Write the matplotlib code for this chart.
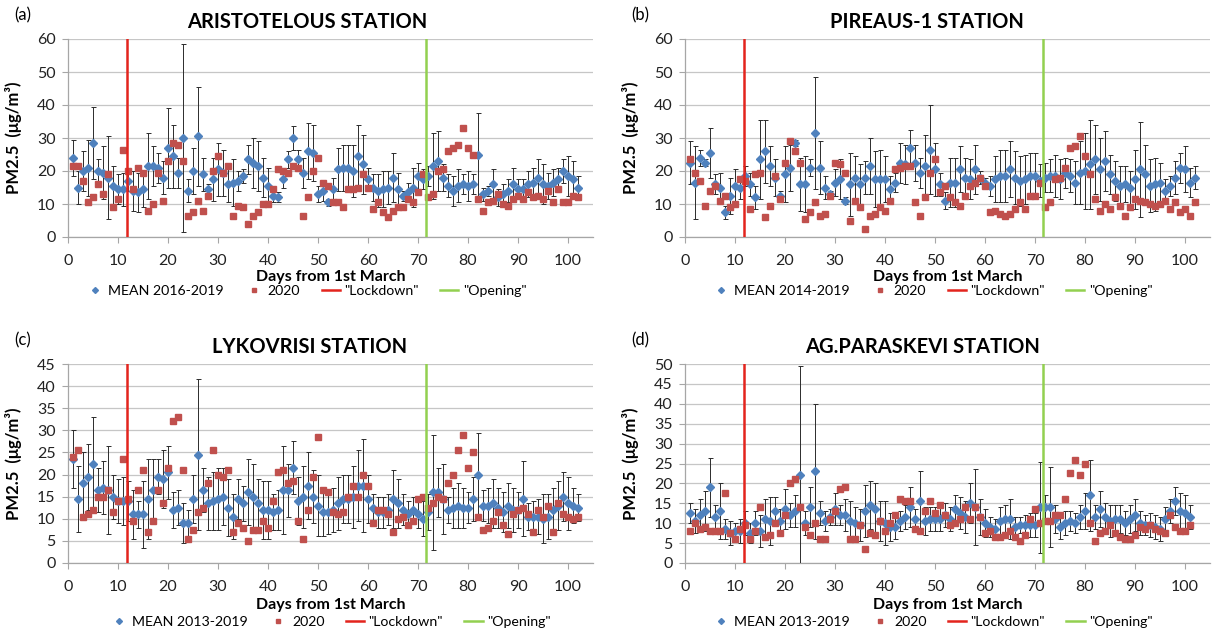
import matplotlib
matplotlib.use("Agg")
import matplotlib.pyplot as plt
from matplotlib.lines import Line2D
import numpy as np

plt.rcParams['font.family'] = ['Lato', 'DejaVu Sans']

# ---- data ----
lockdown_day = 11.7
opening_day = 71.6

# ARISTOTELOUS
mean_a = [24, 15, 20, 21, 28.5, 20, 19.5, 18, 15.5, 14.5, 14.5, 17, 14, 13.5, 14.5, 21.5, 21.5, 21, 18, 27,
          24.5, 19.5, 30, 14, 20, 30.5, 19, 14.5, 17.5, 20.5, 19.5, 16, 16.5, 17, 18.5, 23.5, 22.5, 21.5, 18, 15.5,
          12.5, 12, 17.5, 23.5, 30, 23.5, 19.5, 26, 25.5, 13, 14, 10.5, 14.5, 20.5, 21, 21, 20, 24.5, 22, 17.5,
          15, 14, 14.5, 15, 18, 14.5, 12.5, 13.5, 15, 18.5, 17.5, 18.5, 21.5, 23, 18, 15.5, 14, 15.5, 16, 15.5,
          16, 25, 13, 14, 16, 12, 13, 14, 16, 14.5, 14.5, 16, 16.5, 18, 16, 15.5, 16.5, 17.5, 20, 18.5,
          17.5, 15]
err_a = [5.5, 5, 6, 8.5, 11, 3.5, 8, 12.5, 6, 4.5, 5, 3, 6, 6, 5.5, 10, 6, 4.5, 5, 12,
         9.5, 4.5, 28.5, 3.5, 7, 15, 5, 1.5, 6.5, 8, 7, 5.5, 7, 3, 2, 4.5, 7.5, 7.5, 6, 5.5,
         2, 1.5, 2.5, 2.5, 3.5, 3, 4.5, 8.5, 8.5, 2.5, 3, 1, 3.5, 6.5, 7, 7, 8, 9.5, 9, 3.5,
         4, 5, 5.5, 5, 7.5, 5, 1.5, 3, 6, 4, 3, 3, 10, 9, 4, 3.5, 4.5, 5, 3, 4.5,
         3, 12.5, 2, 1.5, 4.5, 2.5, 3, 3.5, 5, 3, 3, 4, 4.5, 5.5, 6, 4, 4, 3.5, 3.5, 6,
         5.5, 3.5]
y2020_a = [21.5, 21.5, 17, 10.5, 12, 16, 13, 19, 9, 11.5, 26.5, 20, 14.5, 21, 19.5, 8, 10, 19.5, 11, 23,
           28.5, 28, 23, 6.5, 7.5, 11, 8, 12.5, 20, 24.5, 19.5, 21.5, 6.5, 9.5, 9, 4, 6.5, 7.5, 10, 10,
           14.5, 20.5, 20, 19.5, 21.5, 21, 6.5, 12, 20, 24, 16.5, 15.5, 10.5, 10.5, 9, 14.5, 14.5, 15, 19, 15,
           8.5, 10.5, 7.5, 6, 8, 9, 9, 11.5, 10.5, 13.5, 19, 12, 13, 20, 20.5, 26, 27, 28, 33, 27,
           25, 11.5, 8, 10.5, 11, 13, 10, 9.5, 11.5, 12.5, 11.5, 13.5, 12, 12.5, 11.5, 14, 10.5, 14.5, 10.5, 10.5,
           12.5, 12]

# PIREAUS-1
mean_b = [22.5, 16.5, 24, 22.5, 25.5, 16, 15, 7.5, 12.5, 15.5, 15, 18.5, 16, 12, 23.5, 26, 21.5, 18, 12.5, 19,
          21, 28.5, 16, 16, 21, 31.5, 21, 15, 13, 16.5, 17.5, 11, 16, 18, 16, 18, 21.5, 17.5, 17.5, 17.5,
          14.5, 16.5, 22.5, 22, 27, 22.5, 19.5, 21.5, 26.5, 20.5, 16, 11, 16.5, 16.5, 20.5, 18, 17.5, 20.5, 18, 16.5,
          15.5, 17.5, 18.5, 18.5, 20.5, 18, 17, 17.5, 18.5, 18.5, 17, 18, 18.5, 18.5, 17.5, 19.5, 18.5, 16.5, 19.5, 20,
          22, 23.5, 20.5, 23, 19, 17, 15.5, 16, 15, 17.5, 20.5, 19, 15.5, 16, 16.5, 14, 15.5, 18, 21, 20.5,
          16.5, 18]
err_b = [6.5, 11, 2.5, 1, 7.5, 3, 4.5, 2, 5.5, 5, 3.5, 3, 3.5, 3.5, 12, 9.5, 6, 5.5, 1.5, 8.5,
         7, 1, 8, 8.5, 2.5, 17, 8, 3.5, 1, 4, 6, 1, 9.5, 6.5, 6, 5, 8.5, 8.5, 9, 7,
         4, 3, 6, 6, 5.5, 5.5, 4.5, 9.5, 13.5, 8, 3.5, 2.5, 7.5, 7.5, 7, 6, 6, 7.5, 2, 1.5,
         3, 7, 8, 8, 8.5, 8, 7.5, 7.5, 7, 7, 5, 4.5, 5, 6.5, 6, 4.5, 5, 6.5, 9.5, 11.5,
         13.5, 10.5, 9.5, 9, 6, 6, 6, 5.5, 5, 9, 14.5, 9, 8, 8, 6, 3.5, 3, 5, 4.5, 7,
         4.5, 3.5]
y2020_b = [23.5, 19.5, 17, 9.5, 14, 15.5, 11, 12.5, 9, 10, 17.5, 17, 8.5, 19, 19.5, 6, 9.5, 18.5, 11.5, 22.5,
           29, 26, 22.5, 5.5, 7.5, 10.5, 6.5, 7, 12.5, 22.5, 22, 19.5, 5, 11, 9, 2.5, 6.5, 7, 9, 8,
           11, 20.5, 21, 21.5, 21.5, 10.5, 6.5, 12, 19.5, 23.5, 13.5, 15.5, 12, 10.5, 9.5, 12.5, 15.5, 16.5, 18, 15.5,
           7.5, 8, 7, 6.5, 7, 8.5, 10.5, 8.5, 12.5, 12.5, 16.5, 9, 10.5, 17.5, 18, 21, 27, 27.5, 30.5, 24.5,
           19, 11.5, 8, 10, 8.5, 12, 9.5, 6.5, 9, 11.5, 11, 10.5, 10, 9.5, 10, 11, 8.5, 10.5, 7.5, 8.5,
           6.5, 10.5]

# LYKOVRISI
mean_c = [23.5, 14.5, 18, 19.5, 22.5, 16.5, 17, 16.5, 15, 14, 14, 14, 11, 11, 11, 14.5, 16.5, 19.5, 19, 20.5,
          12, 12.5, 9, 9, 14.5, 24.5, 16.5, 13.5, 14, 14.5, 15, 12.5, 10.5, 14.5, 13.5, 16, 15, 13.5, 12, 12,
          11.5, 12, 16.5, 16.5, 21.5, 14, 15, 17.5, 15, 13, 11.5, 11.5, 12, 13.5, 14.5, 14.5, 15, 17.5, 17.5, 14.5,
          12.5, 11.5, 11.5, 12, 14.5, 13.5, 12, 11, 12, 11, 10, 11.5, 16, 16, 14.5, 12, 12.5, 13, 12.5, 12.5,
          14.5, 20, 13, 13, 13.5, 12.5, 11.5, 13, 12, 12, 14.5, 10.5, 10.5, 10.5, 10, 10.5, 12, 13, 15, 13.5,
          13, 12.5]
err_c = [6.5, 7.5, 7, 7.5, 10.5, 5, 6, 10, 5, 5, 5.5, 4.5, 5.5, 3, 7.5, 9, 7, 4, 6.5, 6,
         4, 4, 4.5, 3, 5.5, 17, 5, 6, 6.5, 7, 6.5, 6.5, 5, 4.5, 4, 7.5, 7.5, 5.5, 6.5, 6.5,
         4, 4.5, 10, 6, 6, 5.5, 7, 7.5, 6, 7, 5.5, 5, 5, 6, 5.5, 5.5, 7, 8, 10.5, 5.5,
         3, 3.5, 3.5, 3.5, 6.5, 5.5, 3.5, 3, 3, 3, 4, 4, 13, 5.5, 8, 3, 4.5, 5, 4.5, 3.5,
         5, 9.5, 3.5, 4, 5.5, 4.5, 4.5, 5, 5, 4, 8.5, 3, 3.5, 4, 5.5, 5, 5, 5.5, 5.5, 6,
         4, 3]
y2020_c = [24, 25.5, 10.5, 11, 12, 15, 15, 16.5, 11.5, 14, 23.5, 14.5, 9.5, 16.5, 21, 7, 9.5, 16.5, 13.5, 21.5,
           32, 33, 21, 5.5, 7.5, 11.5, 12.5, 18, 25.5, 20, 19.5, 21, 7, 9, 8, 5, 7.5, 7.5, 9.5, 8,
           14, 20.5, 21, 18, 18.5, 9.5, 5.5, 12, 19.5, 28.5, 16.5, 16, 11.5, 11, 11.5, 15, 17.5, 15, 20, 17.5,
           9, 12, 12, 11, 7, 10, 10.5, 8.5, 9.5, 14.5, 15, 12.5, 13.5, 15, 14.5, 18, 20, 25.5, 29, 21.5,
           25, 10.5, 7.5, 8, 9.5, 11.5, 8.5, 6.5, 11, 12, 12.5, 11, 7, 12, 10.5, 13, 7, 13.5, 11, 10.5,
           10, 10.5]

# AG.PARASKEVI
mean_d = [12.5, 10.5, 12, 13, 19, 11.5, 13, 8.5, 7.5, 8, 8, 10, 7.5, 10, 8, 11, 10.5, 13, 10.5, 13.5,
          12, 13, 22, 10, 14, 23, 12.5, 10.5, 11.5, 13.5, 12, 12, 10.5, 10, 9.5, 13, 14.5, 13.5, 10.5, 10,
          9, 9, 10.5, 11.5, 14, 11, 15.5, 10.5, 11, 11, 11, 12, 11, 13.5, 12.5, 11.5, 15, 14, 11.5, 10,
          9, 8.5, 10.5, 11, 11, 9, 9.5, 9.5, 9.5, 9.5, 14, 14, 14, 11, 9, 10, 10.5, 10, 11.5, 13,
          17, 11.5, 13.5, 11.5, 10.5, 11, 11, 10, 11, 12, 10, 9.5, 9.5, 9, 8.5, 11, 13, 15.5, 13, 12.5,
          11.5]
err_d = [2.5, 3, 4, 5, 7.5, 3, 7, 2.5, 3, 2, 3, 3, 2.5, 3, 4, 5, 6, 3.5, 3, 5,
         3, 4, 27.5, 3, 5, 17, 3, 2.5, 2, 4, 2.5, 4, 5, 4, 4, 6.5, 6, 6.5, 5, 5.5,
         3.5, 3, 2.5, 3, 5, 2.5, 7.5, 3.5, 3, 3, 3, 3, 3, 3.5, 4, 4, 5, 9.5, 4.5, 3.5,
         2.5, 2.5, 3.5, 3.5, 5, 2.5, 2, 2.5, 3, 3, 11.5, 3, 10, 3.5, 3, 3, 2.5, 2.5, 3, 4.5,
         9, 3, 4.5, 3.5, 4, 3.5, 3.5, 3, 3.5, 4, 3, 2.5, 3, 3, 3, 3, 3, 3.5, 4.5, 4.5,
         3]
y2020_d = [8, 10, 8.5, 9, 8, 8, 8, 17.5, 7.5, 6, 8.5, 9.5, 6, 8, 14, 6.5, 7, 10, 7.5, 12,
           20, 21, 14, 9, 7, 10, 6, 6, 11, 13, 18.5, 19, 6, 6, 9.5, 3.5, 7.5, 7, 10.5, 8,
           10, 12, 16, 15.5, 15.5, 8.5, 8, 13, 15.5, 12.5, 14.5, 12, 9.5, 10, 11, 14, 11, 14, 11.5, 7.5,
           8, 6.5, 6.5, 7, 8, 6.5, 5.5, 7, 11, 13.5, 10, 10.5, 10.5, 12, 12, 16, 22.5, 26, 22, 25,
           10, 5.5, 7.5, 8, 9.5, 7.5, 6.5, 6, 6, 7, 9, 8.5, 9.5, 8.5, 8, 7.5, 12, 9, 8, 8,
           9.5]

panels = [
    ("(a)", "ARISTOTELOUS STATION", "MEAN 2016-2019", mean_a, err_a, y2020_a, 60, 10),
    ("(b)", "PIREAUS-1 STATION", "MEAN 2014-2019", mean_b, err_b, y2020_b, 60, 10),
    ("(c)", "LYKOVRISI STATION", "MEAN 2013-2019", mean_c, err_c, y2020_c, 45, 5),
    ("(d)", "AG.PARASKEVI STATION", "MEAN 2013-2019", mean_d, err_d, y2020_d, 50, 5),
]

BLUE = "#4F81BD"
RED = "#C0504D"
LOCK = "#E3241D"
OPEN = "#92D050"
GRID = "#C6C6C6"

W, H = 1215, 636
fig = plt.figure(figsize=(W / 100, H / 100), dpi=100)

# axes boxes in pixels: left, top, right, bottom
boxes = [(68, 39, 593, 237), (685, 39, 1210, 237),
         (68, 364, 593, 563), (685, 364, 1210, 563)]
title_x = [307, 927, 310, 923]
legend_x = [306, 932, 330, 932]

for (tag, title, mean_lbl, mean, err, y2020, ymax, ystep), (l, t, r, b), tx, lx in zip(
        panels, boxes, title_x, legend_x):
    ax = fig.add_axes([l / W, 1 - b / H, (r - l) / W, (b - t) / H])
    days = np.arange(1, len(mean) + 1)

    ax.errorbar(days, mean, yerr=err, fmt='D', color=BLUE, ms=4, mec=BLUE,
                ecolor='#2b2b2b', elinewidth=0.7, capsize=1.8, capthick=0.7, zorder=3)
    ax.plot(days, y2020, 's', color=RED, ms=4, mec=RED, zorder=4)
    ax.axvline(lockdown_day, color=LOCK, lw=1.8, zorder=5)
    ax.axvline(opening_day, color=OPEN, lw=1.8, zorder=5)

    ax.set_xlim(0, 105)
    ax.set_ylim(0, ymax)
    ax.set_xticks(np.arange(0, 101, 10))
    ax.set_yticks(np.arange(0, ymax + 1, ystep))
    ax.yaxis.grid(True, color=GRID, lw=0.9)
    ax.set_axisbelow(True)
    for s in ["top", "right"]:
        ax.spines[s].set_visible(False)
    for s in ["left", "bottom"]:
        ax.spines[s].set_color("#A6A6A6")
        ax.spines[s].set_linewidth(0.9)
    ax.tick_params(axis='x', direction='out', length=4, width=0.8, color="#A6A6A6",
                   pad=8, labelsize=11.5, labelcolor='#222222')
    ax.tick_params(axis='y', direction='out', length=4, width=0.8, color="#A6A6A6",
                   pad=5, labelsize=11.5, labelcolor='#222222')

    ax.set_ylabel("PM2.5  (μg/m³)", fontsize=12, fontweight='bold')
    ax.yaxis.set_label_coords(-0.088, 0.5)
    ax.text(0.5, -(277 - 237) / 198 if t < 300 else -(605 - 563) / 199, "Days from 1st March",
            transform=ax.transAxes, ha='center', va='center', fontsize=11.5, fontweight='bold')

    fig.text(tx / W, 1 - (t - 17) / H, title, ha='center', va='center',
             fontsize=14.5, fontweight='bold')
    fig.text((l - 54) / W, 1 - (t - 24) / H, tag, ha='left', va='center', fontsize=12)

    handles = [
        Line2D([], [], marker='D', ls='none', color=BLUE, ms=3),
        Line2D([], [], marker='s', ls='none', color=RED, ms=3),
        Line2D([], [], color=LOCK, lw=1.8),
        Line2D([], [], color=OPEN, lw=1.8),
    ]
    leg_y = (b + (54 if t < 300 else 59)) / H
    fig.legend(handles, [mean_lbl, "2020", '"Lockdown"', '"Opening"'],
               loc='center', bbox_to_anchor=(lx / W, 1 - leg_y), ncol=4, frameon=False,
               fontsize=10.2, handlelength=1.3, handletextpad=0.3, columnspacing=1.5)

fig.savefig("out.png", dpi=100)
